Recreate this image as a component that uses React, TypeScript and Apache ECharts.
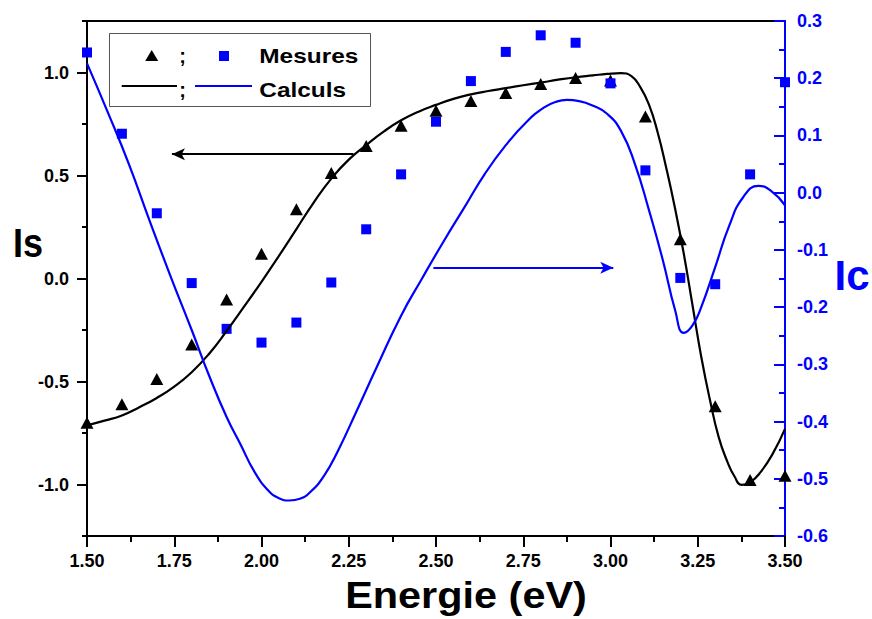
import React, { useEffect, useRef } from "react";
import * as echarts from "echarts";

// Measured points (x in eV)
const measX = [1.5, 1.6, 1.7, 1.8, 1.9, 2.0, 2.1, 2.2, 2.3, 2.4, 2.5, 2.6, 2.7, 2.8, 2.9, 3.0, 3.1, 3.2, 3.3, 3.4, 3.5];
const isMeasured = [-0.70, -0.611, -0.488, -0.32, -0.102, 0.12, 0.336, 0.512, 0.643, 0.741, 0.814, 0.862, 0.90, 0.944, 0.973, 0.961, 0.786, 0.191, -0.62, -0.978, -0.957];
const icMeasured = [0.245, 0.103, -0.036, -0.158, -0.238, -0.262, -0.227, -0.157, -0.064, 0.032, 0.124, 0.195, 0.246, 0.275, 0.262, 0.191, 0.039, -0.149, -0.160, 0.032, 0.193];

// Calculated Is curve (black)
const isCalcX = [
  1.5, 1.55, 1.6, 1.65, 1.7, 1.75, 1.8, 1.85, 1.9, 1.95, 2.0, 2.05, 2.1, 2.15, 2.2, 2.25, 2.3, 2.35, 2.4, 2.45,
  2.5, 2.55, 2.6, 2.65, 2.7, 2.75, 2.8, 2.85, 2.9, 2.95, 2.99, 3.03, 3.06, 3.085, 3.11, 3.135, 3.16, 3.185, 3.21, 3.235,
  3.26, 3.285, 3.31, 3.335, 3.355, 3.376, 3.4, 3.43, 3.465, 3.5,
];
const isCalc = [
  -0.713, -0.69, -0.665, -0.625, -0.58, -0.525, -0.455, -0.365, -0.255, -0.137, -0.016, 0.11, 0.24, 0.37, 0.485, 0.577, 0.648, 0.713, 0.768, 0.81,
  0.843, 0.872, 0.894, 0.91, 0.924, 0.938, 0.951, 0.965, 0.977, 0.986, 0.993, 0.997, 0.982, 0.93, 0.845, 0.71, 0.535, 0.34, 0.12, -0.13,
  -0.38, -0.59, -0.77, -0.89, -0.96, -1.002, -0.99, -0.94, -0.85, -0.73,
];

// Calculated Ic curve (blue)
const icCalcX = [
  1.5, 1.56, 1.62, 1.68, 1.74, 1.8, 1.85, 1.9, 1.94, 1.98, 2.02, 2.05, 2.08, 2.11, 2.14, 2.18, 2.22, 2.27, 2.33, 2.4,
  2.46, 2.52, 2.58, 2.64, 2.7, 2.76, 2.81, 2.845, 2.875, 2.91, 2.95, 2.99, 3.03, 3.07, 3.11, 3.15, 3.185, 3.21, 3.235, 3.26,
  3.3, 3.34, 3.38, 3.424, 3.46, 3.5,
];
const icCalc = [
  0.226, 0.14, 0.05, -0.05, -0.147, -0.24, -0.32, -0.392, -0.44, -0.488, -0.521, -0.534, -0.538, -0.535, -0.523, -0.494, -0.45, -0.385, -0.305, -0.215,
  -0.15, -0.087, -0.027, 0.033, 0.083, 0.124, 0.149, 0.159, 0.162, 0.16, 0.152, 0.138, 0.108, 0.05, -0.03, -0.118, -0.205, -0.245, -0.232, -0.2,
  -0.13, -0.058, -0.008, 0.012, 0.003, -0.022,
];

// Left axis major tick positions (category overlay, -1.25 .. 1.25 by 0.25)
const leftTickCats = ["-1.25", "-1.00", "-0.75", "-0.50", "-0.25", "0.00", "0.25", "0.50", "0.75", "1.00", "1.25"];

// Arrow annotations (data coordinates)
const isArrow = { from: [2.2635, 0.6036], to: [1.7434, 0.6036] };
const icArrow = { from: [2.4925, -0.1314], to: [3.008, -0.1314] };

const FONT = "'Liberation Sans', Arial, sans-serif";
const BLUE = "#0000ff";

export default function App() {
  const ref = useRef<HTMLDivElement>(null);
  useEffect(() => {
    document.body.style.margin = "0";
    const chart = echarts.init(ref.current!, null, { renderer: "svg" });
    const zip = (xs: number[], ys: number[]) => xs.map((x, i) => [x, ys[i]]);
    const labelStyle = { fontFamily: FONT, fontWeight: "bold" as const, fontSize: 18 };
    const isMajor = (v: number) => Math.abs(v * 2 - Math.round(v * 2)) < 1e-6;
    chart.setOption({
      animation: false,
      backgroundColor: "#fff",
      grid: {
        left: 87, right: 87, top: 21, bottom: 83,
        show: true, borderColor: "#000", borderWidth: 2, backgroundColor: "transparent",
        outerBoundsMode: "none", containLabel: false,
      },
      xAxis: {
        type: "value", min: 1.5, max: 3.5, interval: 0.25,
        axisLine: { onZero: false, lineStyle: { color: "#000", width: 2 } },
        axisTick: { length: 11, lineStyle: { color: "#000", width: 2 } },
        minorTick: { show: true, splitNumber: 2, length: 6, lineStyle: { color: "#000", width: 2 } },
        splitLine: { show: false },
        axisLabel: { ...labelStyle, color: "#000", margin: 16, formatter: (v: number) => v.toFixed(2) },
      },
      yAxis: [
        {
          type: "value", min: -1.25, max: 1.25, interval: 0.25, position: "left",
          axisLine: { show: true, onZero: false, lineStyle: { color: "#000", width: 2 } },
          axisTick: { show: true, length: 5, lineStyle: { color: "#000", width: 2 } },
          splitLine: { show: false },
          axisLabel: {
            ...labelStyle, color: "#000", margin: 18,
            formatter: (v: number) => (isMajor(v) ? v.toFixed(1) : ""),
          },
        },
        {
          type: "value", min: -0.6, max: 0.3, interval: 0.1, position: "right",
          axisLine: { show: true, onZero: false, lineStyle: { color: BLUE, width: 2 } },
          axisTick: { show: true, inside: true, length: 11, lineStyle: { color: BLUE, width: 2 } },
          minorTick: { show: true, splitNumber: 2, length: 6, lineStyle: { color: BLUE, width: 2 } },
          splitLine: { show: false },
          axisLabel: { ...labelStyle, color: BLUE, margin: 12, formatter: (v: number) => v.toFixed(1) },
        },
        {
          type: "category", data: leftTickCats, boundaryGap: false, position: "left",
          axisLine: { show: false, onZero: false },
          axisTick: { show: true, length: 10, interval: (i: number) => i % 2 === 1, lineStyle: { color: "#000", width: 2 } },
          splitLine: { show: false },
          axisLabel: { show: false },
        },
      ],
      series: [
        {
          name: "Is calc", type: "line", yAxisIndex: 0, smooth: true, showSymbol: false, silent: true,
          data: zip(isCalcX, isCalc),
          lineStyle: { color: "#000", width: 2.2 }, itemStyle: { color: "#000" },
          markLine: {
            silent: true, symbol: ["none", "arrow"], symbolSize: [9, 13], label: { show: false },
            lineStyle: { color: "#000", width: 2, type: "solid" },
            data: [[{ coord: isArrow.from }, { coord: isArrow.to }]],
          },
        },
        {
          name: "Ic calc", type: "line", yAxisIndex: 1, smooth: true, showSymbol: false, silent: true,
          data: zip(icCalcX, icCalc),
          lineStyle: { color: BLUE, width: 2.2 }, itemStyle: { color: BLUE },
          markLine: {
            silent: true, symbol: ["none", "arrow"], symbolSize: [9, 13], label: { show: false },
            lineStyle: { color: BLUE, width: 2, type: "solid" },
            data: [[{ coord: icArrow.from }, { coord: icArrow.to }]],
          },
        },
        {
          name: "Is mesures", type: "scatter", yAxisIndex: 0, symbol: "triangle", symbolSize: [13, 12],
          data: zip(measX, isMeasured), itemStyle: { color: "#000", opacity: 1 }, silent: true,
        },
        {
          name: "Ic mesures", type: "scatter", yAxisIndex: 1, symbol: "rect", symbolSize: 10,
          data: zip(measX, icMeasured), itemStyle: { color: BLUE, opacity: 1 }, silent: true,
        },
      ],
      graphic: [
        { type: "text", x: 466, y: 595, scaleX: 1.12, style: { text: "Energie (eV)", x: 0, y: 0, align: "center", verticalAlign: "middle", font: `bold 37px ${FONT}`, fill: "#000" } },
        { type: "text", x: 28, y: 243, scaleX: 0.9, style: { text: "Is", x: 0, y: 0, align: "center", verticalAlign: "middle", font: `bold 40px ${FONT}`, fill: "#000" } },
        { type: "text", x: 852, y: 275, style: { text: "Ic", x: 0, y: 0, align: "center", verticalAlign: "middle", font: `bold 42px ${FONT}`, fill: BLUE } },
        { type: "rect", shape: { x: 109.5, y: 33.5, width: 261, height: 73 }, style: { fill: "#fff", stroke: "#555", lineWidth: 1 }, z: 10 },
        { type: "polygon", shape: { points: [[151.7, 50], [145.2, 61], [158.2, 61]] }, style: { fill: "#000" }, z: 11 },
        { type: "text", x: 182.7, y: 56, z: 11, style: { text: ";", x: 0, y: 0, align: "center", verticalAlign: "middle", font: `bold 20px ${FONT}`, fill: "#000" } },
        { type: "rect", shape: { x: 219, y: 51, width: 10, height: 10 }, style: { fill: BLUE }, z: 11 },
        { type: "text", x: 259.3, y: 56, scaleX: 1.22, z: 11, style: { text: "Mesures", x: 0, y: 0, align: "left", verticalAlign: "middle", font: `bold 20px ${FONT}`, fill: "#000" } },
        { type: "line", shape: { x1: 121.7, y1: 86, x2: 177, y2: 86 }, style: { stroke: "#000", lineWidth: 2 }, z: 11 },
        { type: "text", x: 182.7, y: 90, z: 11, style: { text: ";", x: 0, y: 0, align: "center", verticalAlign: "middle", font: `bold 20px ${FONT}`, fill: "#000" } },
        { type: "line", shape: { x1: 195, y1: 86, x2: 252, y2: 86 }, style: { stroke: BLUE, lineWidth: 2 }, z: 11 },
        { type: "text", x: 259.3, y: 90, scaleX: 1.22, z: 11, style: { text: "Calculs", x: 0, y: 0, align: "left", verticalAlign: "middle", font: `bold 20px ${FONT}`, fill: "#000" } },
      ],
    });
    return () => chart.dispose();
  }, []);
  return <div ref={ref} style={{ width: 872, height: 619 }} />;
}
